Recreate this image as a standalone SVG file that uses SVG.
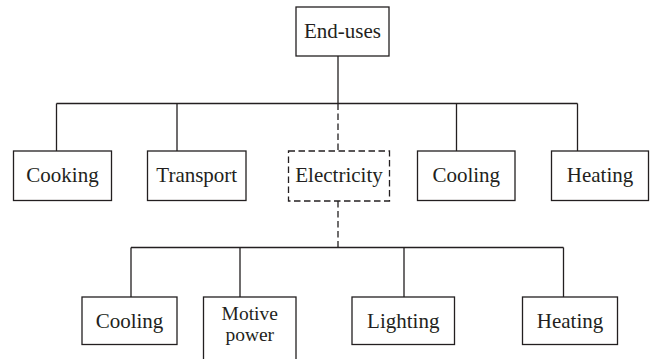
<svg xmlns="http://www.w3.org/2000/svg" width="650" height="359" viewBox="0 0 650 359">
  <style>
    .box { fill: #ffffff; stroke: #231f20; stroke-width: 1.3; }
    .dash { stroke-dasharray: 6.5 3.5; }
    .line { fill: none; stroke: #231f20; stroke-width: 1.3; }
    .lbl { font-family: 'Liberation Serif', 'Times New Roman', serif; font-size: 21px; fill: #231f20; text-anchor: middle; }
    .two { font-size: 19.5px; }
  </style>
  <rect width="650" height="359" fill="#ffffff"/>
  <g id="connectors">
    <path class="line" d="M338 56 V103.5"/>
    <path class="line" d="M56.5 103.5 H577.5"/>
    <path class="line" d="M56.5 103.5 V151 M177 103.5 V151 M456.5 103.5 V151 M577.5 103.5 V151"/>
    <path class="line dash" d="M338 103.5 V151"/>
    <path class="line dash" d="M338 201 V247.5"/>
    <path class="line" d="M131 247.5 H563.5"/>
    <path class="line" d="M131 247.5 V297 M240 247.5 V297 M404 247.5 V297 M563.5 247.5 V297"/>
  </g>
  <g id="end-uses">
    <rect class="box" x="296" y="7" width="93" height="49"/>
    <text class="lbl" x="342.5" y="38">End-uses</text>
  </g>
  <g id="cooking">
    <rect class="box" x="13.5" y="151" width="98" height="49.5"/>
    <text class="lbl" x="62.5" y="182">Cooking</text>
  </g>
  <g id="transport">
    <rect class="box" x="147.5" y="151" width="98.5" height="49.5"/>
    <text class="lbl" x="196.75" y="182">Transport</text>
  </g>
  <g id="electricity">
    <rect class="box dash" x="288.5" y="151" width="101" height="50"/>
    <text class="lbl" x="339" y="182">Electricity</text>
  </g>
  <g id="cooling-top">
    <rect class="box" x="417.5" y="151" width="97.5" height="49.5"/>
    <text class="lbl" x="466.25" y="182">Cooling</text>
  </g>
  <g id="heating-top">
    <rect class="box" x="551.5" y="151" width="97" height="49.5"/>
    <text class="lbl" x="600" y="182">Heating</text>
  </g>
  <g id="cooling-bottom">
    <rect class="box" x="82" y="297" width="95" height="47.5"/>
    <text class="lbl" x="129.5" y="327.5">Cooling</text>
  </g>
  <g id="motive-power">
    <rect class="box" x="203.5" y="297" width="92.5" height="75"/>
    <text class="lbl two" x="249.75" y="320">Motive</text>
    <text class="lbl two" x="249.75" y="341">power</text>
  </g>
  <g id="lighting">
    <rect class="box" x="352" y="297" width="102.5" height="47.5"/>
    <text class="lbl" x="403.25" y="327.5">Lighting</text>
  </g>
  <g id="heating-bottom">
    <rect class="box" x="522.5" y="297" width="95" height="47.5"/>
    <text class="lbl" x="570" y="327.5">Heating</text>
  </g>
</svg>
